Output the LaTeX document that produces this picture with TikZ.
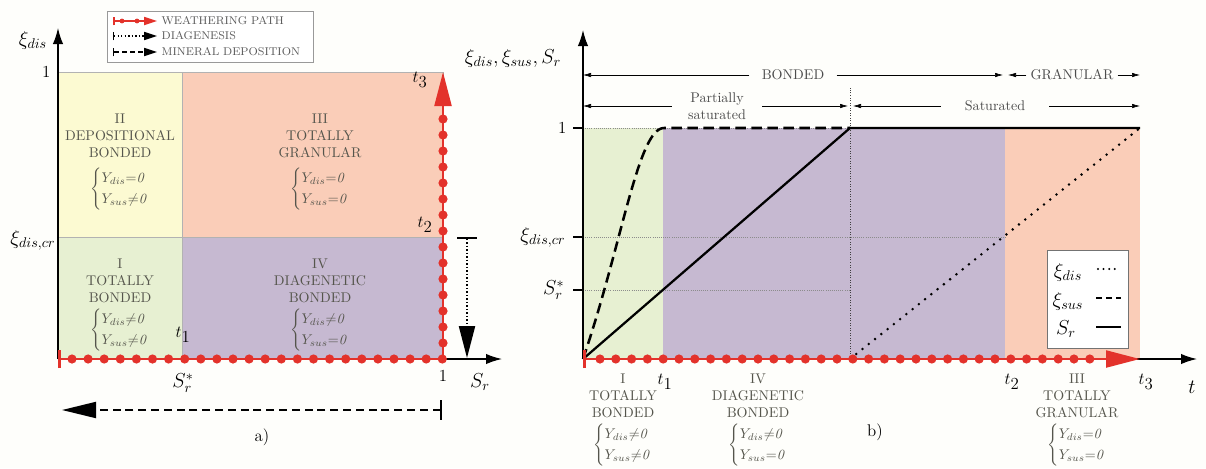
\documentclass[tikz,border=0pt]{standalone}
\usepackage{amsmath,amssymb}
\usepackage{tikz}
\usetikzlibrary{arrows.meta,positioning}
\definecolor{bgcream}{HTML}{FEFEFB}
\definecolor{zyellow}{HTML}{FCFAD2}
\definecolor{zsalmon}{HTML}{FACDB8}
\definecolor{zgreen}{HTML}{E7F0D2}
\definecolor{zpurple}{HTML}{C6B9D1}
\definecolor{wred}{HTML}{E3322B}
\definecolor{txtgrey}{HTML}{55554C}
\newcommand{\ycases}[2]{{\renewcommand{\arraystretch}{1.25}$\left\{\begin{array}{@{}l@{}}Y_{dis}{#1}\mathit{0}\\ Y_{sus}{#2}\mathit{0}\end{array}\right.$}}
\tikzset{
  reg/.style={draw=black!30, line width=0.4pt},
  rlab/.style={align=center, text=txtgrey, inner sep=1pt},
  lbl/.style={font=\large, inner sep=1pt},
  big/.style={font=\Large, inner sep=1pt},
  wpath/.style={draw=wred, line width=2pt, {Bar[width=4.5mm]}-{Triangle[length=8.5mm,width=4.2mm]}},
  wpath small/.style={draw=wred, line width=1.2pt, {Bar[width=2.2mm]}-{Triangle[length=3.2mm,width=2mm]}},
  wdot/.style={fill=wred},
  axarr/.style={-{Latex[length=4mm,width=2.6mm]}, line width=1pt},
  dimarr/.style={-{Latex[length=2mm,width=1.1mm]}, line width=0.4pt},
  dimlab/.style={text=black!70, inner ysep=1pt},
  gridln/.style={black!45, line width=0.4pt, dash pattern=on 0.5pt off 1pt},
  vdot/.style={black!75, line width=0.7pt, dash pattern=on 0.6pt off 1.2pt},
  xdis/.style={line width=2pt, line cap=round, dash pattern=on 0pt off 2mm},
  xsus/.style={line width=1.8pt, dash pattern=on 2.6mm off 1.4mm},
  srline/.style={line width=1.6pt},
  diagarr/.style={line width=1.5pt, dash pattern=on 1pt off 1.5pt, {Bar[width=5mm]}-{Triangle[length=8mm,width=4mm]}},
  minarr/.style={line width=1.4pt, dash pattern=on 2mm off 1.2mm, {Bar[width=5mm]}-{Triangle[length=8.5mm,width=4mm]}},
  legtxt/.style={font=\footnotesize, text=black!65, inner sep=1pt, anchor=west},
}
\begin{document}
\begin{tikzpicture}[x=0.25mm, y=-0.25mm]
  \fill[bgcream] (0,0) rectangle (1206,468);
  \useasboundingbox (0,0) rectangle (1206,468);
  % panel a: the four states
  \filldraw[reg, fill=zyellow] (58,72) rectangle (182,237);
  \filldraw[reg, fill=zsalmon] (182,72) rectangle (443,237);
  \filldraw[reg, fill=zgreen] (58,237) rectangle (182,359);
  \filldraw[reg, fill=zpurple] (182,237) rectangle (443,359);
  \node[rlab] (rII) at (120,162) {II\\DEPOSITIONAL\\BONDED\\[6pt]\ycases{=}{\neq}};
  \node[rlab] (rIII) at (320,162) {III\\TOTALLY\\GRANULAR\\[6pt]\ycases{=}{=}};
  \node[rlab] (rI) at (120,305) {I\\TOTALLY\\BONDED\\[3pt]\ycases{\neq}{\neq}};
  \node[rlab] (rIV) at (320,305) {IV\\DIAGENETIC\\BONDED\\[3pt]\ycases{\neq}{=}};
  % panel a: axes and paths
  \coordinate (oa) at (58,359);
  \coordinate (ua) at (443,359);
  \coordinate (ta) at (443,72);
  \coordinate (ya) at (58,28);
  \coordinate (xa) at (502,359);
  \draw[axarr] (oa) -- (ya);
  \draw[axarr] (oa) -- (xa);
  \draw[wpath] (oa) -- (ua) -- (ta);
  \foreach \i in {0,...,23} \fill[wdot] ({72+16.1*\i},359) circle (1.15mm);
  \foreach \i in {1,...,15} \fill[wdot] (443,{359-16*\i}) circle (1.15mm);
  \coordinate (dg0) at (467,237);
  \coordinate (dg1) at (467,358);
  \draw[diagarr] (dg0) -- (dg1);
  \coordinate (md0) at (442,410);
  \coordinate (md1) at (62,410);
  \draw[minarr] (md0) -- (md1);
  % panel a: labels
  \node[big] (xia) at (33,40) {$\xi_{dis}$};
  \node[lbl, anchor=east] (onea) at (52,72) {1};
  \node[big, anchor=east] (xcra) at (57,240) {$\xi_{dis,cr}$};
  \node[big] (sra) at (183,383) {$S_r^*$};
  \node[lbl] (una) at (443,376) {1};
  \node[big] (xsra) at (480,382) {$S_r$};
  \node[lbl] (t1a) at (183,335) {$t_{\displaystyle 1}$};
  \node[lbl] (t2a) at (425,225) {$t_{\displaystyle 2}$};
  \node[lbl] (t3a) at (420,80) {$t_{\displaystyle 3}$};
  \node[lbl] (capa) at (262,437) {a)};
  % panel a: legend
  \draw[black!40, fill=white, line width=0.5pt] (107,11) rectangle (313,62);
  \draw[wpath small] (113,21) -- (157,21);
  \foreach \x in {122,137} \fill[wdot] (\x,21) circle (0.6mm);
  \draw[diagarr, line width=1pt, {Bar[width=2.2mm]}-{Triangle[length=3.2mm,width=2mm]}] (113,36) -- (157,36);
  \draw[minarr, line width=1pt, dash pattern=on 1.2mm off 0.8mm, {Bar[width=2.2mm]}-{Triangle[length=3.2mm,width=2mm]}] (113,52) -- (157,52);
  \node[legtxt] (lgw) at (160,21) {WEATHERING PATH};
  \node[legtxt] (lgd) at (160,36) {DIAGENESIS};
  \node[legtxt] (lgm) at (160,52) {MINERAL DEPOSITION};
  % panel b: time line
  \coordinate (ob) at (583,359);
  \coordinate (t1) at (663,359);
  \coordinate (satl) at (848,359);
  \coordinate (sat) at (850,359);
  \coordinate (satr) at (853,359);
  \coordinate (t2l) at (1003,359);
  \coordinate (t2) at (1005,359);
  \coordinate (t2r) at (1008,359);
  \coordinate (t3) at (1140,359);
  \coordinate (oneb) at (583,128);
  \coordinate (crb) at (583,237);
  \coordinate (srb) at (583,290);
  \fill[zgreen] (oneb) rectangle (t1);
  \fill[zpurple] (t1 |- oneb) rectangle (t2);
  \fill[zsalmon] (t2 |- oneb) rectangle (t3);
  \draw[gridln] (oneb) -- (sat |- oneb);
  \draw[gridln] (crb) -- (t2 |- crb);
  \draw[gridln] (srb) -- (sat |- srb);
  \draw[vdot] (sat) -- (850,88);
  \foreach \c in {oneb,crb,srb} \draw[line width=0.8pt] (\c) -- ++(-10,0);
  \draw[xsus] (ob) .. controls (622,245) and (638,128) .. (664,128) -- (sat |- oneb);
  \draw[srline] (ob) -- (sat |- oneb) -- (t3 |- oneb);
  \draw[xdis] (sat) -- (t3 |- oneb);
  \draw[axarr] (ob) -- (583,30);
  \draw[axarr] (ob) -- (1197,359);
  \draw[wpath] (ob) -- (t3);
  \foreach \i in {0,...,31} \fill[wdot] ({600+15.8*\i},359) circle (1.15mm);
  % panel b: bonded / granular ranges
  \node[dimlab, inner xsep=3mm] (bnd) at (793,75) {BONDED};
  \draw[dimarr] (bnd.west) -- (bnd.west -| ob);
  \draw[dimarr] (bnd.east) -- (bnd.east -| t2l);
  \node[dimlab, inner xsep=1mm] (gran) at (1072,75) {GRANULAR};
  \draw[dimarr] (gran.west) -- (gran.west -| t2r);
  \draw[dimarr] (gran.east) -- (gran.east -| t3);
  \node[dimlab, align=center, inner xsep=4mm] (psat) at (717,106) {Partially\\saturated};
  \draw[dimarr] (psat.west) -- (psat.west -| ob);
  \draw[dimarr] (psat.east) -- (psat.east -| satl);
  \node[dimlab, inner xsep=6mm] (satn) at (995,106) {Saturated};
  \draw[dimarr] (satn.west) -- (satn.west -| satr);
  \draw[dimarr] (satn.east) -- (satn.east -| t3);
  % panel b: labels
  \node[big] (yb) at (513,58) {$\xi_{dis},\xi_{sus},S_r$};
  \node[lbl, anchor=east] (oneblab) at (568,128) {1};
  \node[big, anchor=east] (xcrb) at (567,237) {$\xi_{dis,cr}$};
  \node[big, anchor=east] (srblab) at (566,290) {$S_r^*$};
  \node[lbl] (t1b) at (665,382) {$t_{\displaystyle 1}$};
  \node[lbl] (t2b) at (1012,382) {$t_{\displaystyle 2}$};
  \node[lbl] (t3b) at (1146,382) {$t_{\displaystyle 3}$};
  \node[big] (tb) at (1192,387) {$t$};
  \node[rlab] (bI) at (623,420) {I\\TOTALLY\\BONDED\\[3pt]\ycases{\neq}{\neq}};
  \node[rlab] (bIV) at (758,420) {IV\\DIAGENETIC\\BONDED\\[3pt]\ycases{\neq}{=}};
  \node[rlab] (bIII) at (1077,420) {III\\TOTALLY\\GRANULAR\\[3pt]\ycases{=}{=}};
  \node[lbl] (capb) at (875,432) {b)};
  % panel b: legend
  \draw[black!55, fill=white, line width=0.5pt] (1047,250) rectangle (1128,348);
  \node[big] (lxd) at (1068,272) {$\xi_{dis}$};
  \node[big] (lxs) at (1068,301) {$\xi_{sus}$};
  \node[big] (lsr) at (1066,329) {$S_r$};
  \draw[xdis, line width=1.6pt, dash pattern=on 0pt off 1.4mm] (1098,269) -- (1120,269);
  \draw[xsus, dash pattern=on 1.6mm off 0.9mm] (1096,298) -- (1121,298);
  \draw[srline] (1096,327) -- (1121,327);
\end{tikzpicture}
\end{document}
